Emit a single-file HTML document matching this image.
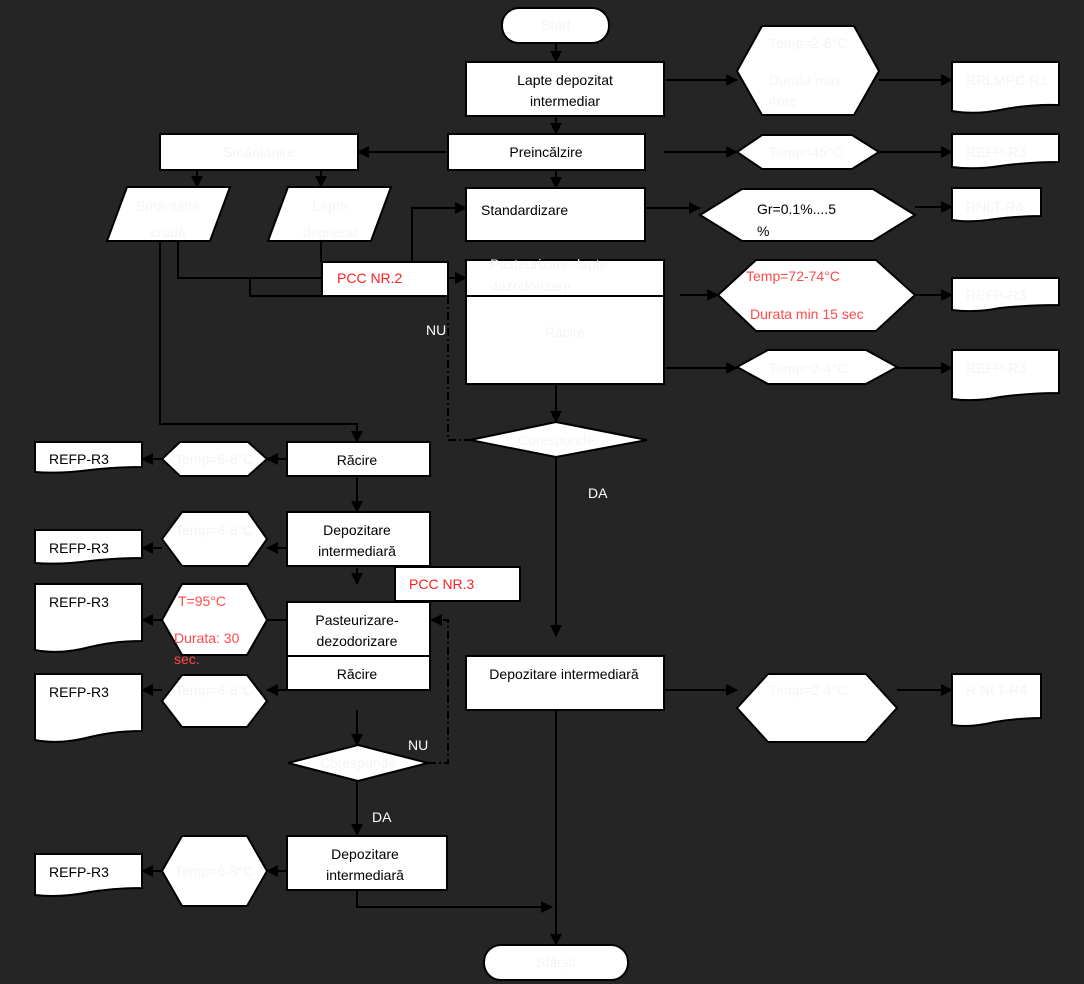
<!DOCTYPE html>
<html><head><meta charset="utf-8"><style>
html,body{margin:0;padding:0;background:#252525;}
svg{display:block;}
text{font-family:"Liberation Sans","DejaVu Sans",sans-serif;font-size:14px;}
.s{fill:#fff;stroke:#000;stroke-width:2;}
.l{stroke:#000;stroke-width:2;fill:none;}
.d{stroke:#000;stroke-width:2;fill:none;stroke-dasharray:8,3,2,3;}
.w{fill:#f4f4f4;}
.k{fill:#000;}
.r{fill:#ff2020;}
.p{fill:#ff4a4a;}
</style></head><body>
<svg width="1084" height="984" viewBox="0 0 1084 984">
<defs><marker id="a" markerWidth="12" markerHeight="12" refX="11" refY="6" orient="auto" markerUnits="userSpaceOnUse"><path d="M0,0 L12,6 L0,12 z" fill="#000"/></marker></defs>

<g class="l">
<line x1="556" y1="43" x2="556" y2="62" marker-end="url(#a)"/>
<line x1="556" y1="104" x2="556" y2="134" marker-end="url(#a)"/>
<line x1="664" y1="80" x2="737" y2="80" marker-end="url(#a)"/>
<line x1="879" y1="80" x2="952" y2="80" marker-end="url(#a)"/>
<line x1="664" y1="152" x2="737" y2="152" marker-end="url(#a)"/>
<line x1="879" y1="152" x2="952" y2="152" marker-end="url(#a)"/>
<line x1="448" y1="152" x2="358" y2="152" marker-end="url(#a)"/>
<line x1="556" y1="170" x2="556" y2="188" marker-end="url(#a)"/>
<line x1="197" y1="170" x2="197" y2="187" marker-end="url(#a)"/>
<line x1="321" y1="170" x2="321" y2="187" marker-end="url(#a)"/>
<line x1="645" y1="208" x2="700" y2="208" marker-end="url(#a)"/>
<line x1="915" y1="207" x2="952" y2="207" marker-end="url(#a)"/>
<polyline points="321,241 321,262"/>
<polyline points="178,241 178,278 322,278"/>
<polyline points="250,278 250,296 322,296"/>
<polyline points="412,262 412,208 466,208" marker-end="url(#a)"/>
<line x1="448" y1="278" x2="466" y2="278" marker-end="url(#a)"/>
<line x1="680" y1="295" x2="718" y2="295" marker-end="url(#a)"/>
<line x1="915" y1="295" x2="952" y2="295" marker-end="url(#a)"/>
<line x1="664" y1="368" x2="737" y2="368" marker-end="url(#a)"/>
<line x1="897" y1="368" x2="952" y2="368" marker-end="url(#a)"/>
<line x1="556" y1="384" x2="556" y2="422" marker-end="url(#a)"/>
<line x1="556" y1="457" x2="556" y2="636" marker-end="url(#a)"/>
<polyline points="160,241 160,424 357,424 357,442" marker-end="url(#a)"/>
<line x1="287" y1="459" x2="267" y2="459" marker-end="url(#a)"/>
<line x1="162" y1="459" x2="142" y2="459" marker-end="url(#a)"/>
<line x1="357" y1="476" x2="357" y2="512" marker-end="url(#a)"/>
<line x1="287" y1="548" x2="267" y2="548" marker-end="url(#a)"/>
<line x1="162" y1="548" x2="142" y2="548" marker-end="url(#a)"/>
<line x1="357" y1="568" x2="357" y2="584" marker-end="url(#a)"/>
<line x1="287" y1="620" x2="250" y2="620" marker-end="url(#a)"/>
<line x1="162" y1="620" x2="142" y2="620" marker-end="url(#a)"/>
<line x1="287" y1="690" x2="267" y2="690" marker-end="url(#a)"/>
<line x1="162" y1="690" x2="142" y2="690" marker-end="url(#a)"/>
<line x1="357" y1="710" x2="357" y2="745" marker-end="url(#a)"/>
<line x1="357" y1="781" x2="357" y2="835" marker-end="url(#a)"/>
<line x1="287" y1="871" x2="267" y2="871" marker-end="url(#a)"/>
<line x1="162" y1="871" x2="142" y2="871" marker-end="url(#a)"/>
<polyline points="357,890 357,907 552,907" marker-end="url(#a)"/>
<line x1="664" y1="690" x2="737" y2="690" marker-end="url(#a)"/>
<line x1="897" y1="690" x2="952" y2="690" marker-end="url(#a)"/>
<line x1="556" y1="710" x2="556" y2="945" marker-end="url(#a)"/>
</g>
<polyline class="d" points="448,296 448,440 470,440"/>
<polyline class="d" points="428,763 448,763 448,620 432,620"/>
<path d="M442,614 L430,620 L442,626 z" fill="#000"/>

<rect class="s" x="502" y="8" width="107" height="35" rx="17"/>
<rect class="s" x="466" y="62" width="198" height="54"/>
<polygon class="s" points="762,26 854,26 879,71 854,115 762,115 737,71"/>
<path class="s" d="M952,62 H1059 V105 Q1030,104 1000,110 Q975,115 952,111 z"/>
<rect class="s" x="448" y="134" width="197" height="36"/>
<polygon class="s" points="762,135 852,135 879,152 852,169 762,169 737,152"/>
<path class="s" d="M952,134 H1059 V162 Q1030,162 1000,166 Q975,170 952,167 z"/>
<rect class="s" x="160" y="134" width="198" height="36"/>
<polygon class="s" points="127,187 230,187 210,241 107,241"/>
<polygon class="s" points="288,187 391,187 371,241 268,241"/>
<rect class="s" x="466" y="188" width="179" height="53"/>
<polygon class="s" points="742,189 873,189 915,215 873,241 742,241 700,215"/>
<path class="s" d="M952,188 H1041 V216 Q1020,216 995,219 Q970,223 952,220 z"/>
<rect class="s" x="322" y="262" width="126" height="34"/>
<rect class="s" x="466" y="260" width="198" height="36"/>
<rect class="s" x="466" y="296" width="198" height="88"/>
<polygon class="s" points="756,260 876,260 915,295 876,331 756,331 718,295"/>
<path class="s" d="M952,278 H1059 V305 Q1030,305 1000,308 Q975,313 952,310 z"/>
<polygon class="s" points="768,350 866,350 897,367 866,384 768,384 737,367"/>
<path class="s" d="M952,350 H1059 V393 Q1030,393 1000,397 Q975,402 952,399 z"/>
<polygon class="s" points="556,422 647,440 556,457 470,440"/>

<rect class="s" x="287" y="442" width="143" height="34"/>
<polygon class="s" points="180,442 248,442 267,459 248,476 180,476 162,459"/>
<path class="s" d="M35,442 H142 V467 Q115,467 90,470 Q60,474 35,472 z"/>
<rect class="s" x="287" y="512" width="143" height="54"/>
<polygon class="s" points="182,512 248,512 267,539 248,566 182,566 162,539"/>
<path class="s" d="M35,530 H142 V558 Q115,558 90,561 Q60,565 35,563 z"/>
<rect class="s" x="395" y="567" width="125" height="34"/>
<rect class="s" x="287" y="602" width="143" height="54"/>
<rect class="s" x="287" y="656" width="143" height="34"/>
<polygon class="s" points="182,584 247,584 267,620 247,655 182,655 162,620"/>
<path class="s" d="M35,584 H142 V641 Q115,641 90,647 Q60,655 35,650 z"/>
<polygon class="s" points="182,675 247,675 267,701 247,727 182,727 162,701"/>
<path class="s" d="M35,674 H142 V731 Q115,731 90,737 Q60,745 35,740 z"/>
<polygon class="s" points="358,745 428,763 358,781 288,763"/>
<rect class="s" x="287" y="836" width="160" height="54"/>
<polygon class="s" points="182,836 247,836 267,871 247,906 182,906 162,871"/>
<path class="s" d="M35,854 H142 V888 Q115,888 90,892 Q60,898 35,895 z"/>
<rect class="s" x="466" y="656" width="198" height="54"/>
<polygon class="s" points="768,674 866,674 897,708 866,742 768,742 737,708"/>
<path class="s" d="M952,674 H1041 V718 Q1020,718 995,722 Q970,728 952,725 z"/>
<rect class="s" x="484" y="945" width="144" height="35" rx="17"/>

<g class="w">
<text x="556" y="30" text-anchor="middle">Start</text>
<text x="769" y="48">Temp=2-6°C</text>
<text x="769" y="85">Durata max</text>
<text x="769" y="106">4ore</text>
<text x="966" y="85">RRLMPC-R1</text>
<text x="769" y="157">Temp=45°C</text>
<text x="966" y="157">REFP-R3</text>
<text x="259" y="157" text-anchor="middle">Smântânire</text>
<text x="168" y="211" text-anchor="middle" font-size="15">Smântână</text>
<text x="168" y="237" text-anchor="middle" font-size="15">crudă</text>
<text x="330" y="211" text-anchor="middle" font-size="15">Lapte</text>
<text x="330" y="237" text-anchor="middle" font-size="15">degresat</text>
<text x="966" y="212">RNLT-R4</text>
<text x="490" y="269">Pasteurizare- lapte</text>
<text x="490" y="291">dezodorizare</text>
<text x="565" y="337" text-anchor="middle">Răcire</text>
<text x="966" y="300">REFP-R3</text>
<text x="769" y="373">Temp=2-4°C</text>
<text x="966" y="373">REFP-R3</text>
<text x="556" y="445" text-anchor="middle">Corespunde</text>
<text x="175" y="464">Temp=6-8°C</text>
<text x="175" y="535">Temp=6-8°C</text>
<text x="175" y="695">Temp=6-8°C</text>
<text x="175" y="876">Temp=6-8°C</text>
<text x="358" y="768" text-anchor="middle">Corespunde</text>
<text x="769" y="695">Temp=2-4°C</text>
<text x="556" y="967" text-anchor="middle">Sfârșit</text>
</g>
<g class="k">
<text x="565" y="85" text-anchor="middle">Lapte depozitat</text>
<text x="565" y="106" text-anchor="middle">intermediar</text>
<text x="546" y="157" text-anchor="middle">Preincălzire</text>
<text x="481" y="215" font-size="18">Standardizare</text>
<text x="757" y="214" font-size="15">Gr=0.1%....5</text>
<text x="757" y="236" font-size="15">%</text>
<text x="357" y="465" text-anchor="middle" font-size="15">Răcire</text>
<text x="49" y="464">REFP-R3</text>
<text x="357" y="535" text-anchor="middle">Depozitare</text>
<text x="357" y="556" text-anchor="middle">intermediară</text>
<text x="49" y="553">REFP-R3</text>
<text x="357" y="625" text-anchor="middle">Pasteurizare-</text>
<text x="357" y="646" text-anchor="middle">dezodorizare</text>
<text x="357" y="679" text-anchor="middle">Răcire</text>
<text x="49" y="607">REFP-R3</text>
<text x="49" y="697">REFP-R3</text>
<text x="365" y="859" text-anchor="middle">Depozitare</text>
<text x="365" y="880" text-anchor="middle">intermediară</text>
<text x="49" y="877">REFP-R3</text>
<text x="564" y="679" text-anchor="middle">Depozitare intermediară</text>
<text x="966" y="695" class="w">R NLT-R4</text>
</g>
<text x="337" y="283" class="r">PCC NR.2</text>
<text x="409" y="589" class="r">PCC NR.3</text>
<text x="746" y="281" class="p">Temp=72-74°C</text>
<text x="750" y="319" class="p">Durata min 15 sec</text>
<text x="178" y="606" class="p">T=95°C</text>
<text x="174" y="643" class="p">Durata: 30</text>
<text x="174" y="664" class="p" font-size="11">sec.</text>
<g fill="#fff">
<text x="426" y="335">NU</text>
<text x="588" y="498">DA</text>
<text x="408" y="750">NU</text>
<text x="372" y="822">DA</text>
</g>
</svg>
</body></html>
